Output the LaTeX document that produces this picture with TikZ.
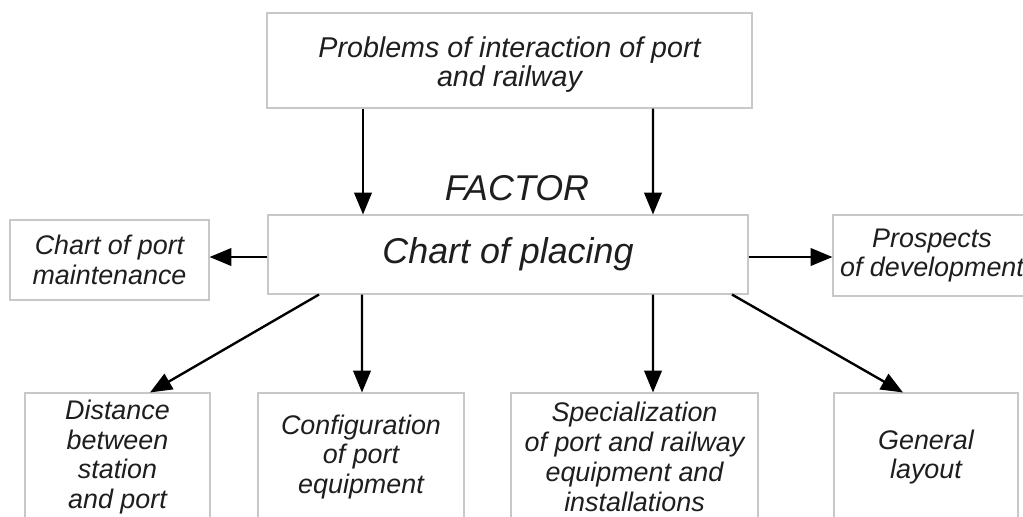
\documentclass[tikz,border=0pt]{standalone}
\usepackage{fontspec}
\setmainfont{Liberation Sans}
\usetikzlibrary{arrows.meta}
\definecolor{boxgray}{RGB}{200,200,200}
\definecolor{txt}{RGB}{30,30,30}
\begin{document}
\begin{tikzpicture}[
  box/.style={draw=boxgray, line width=0.6pt, align=center, text=txt, inner sep=0pt,
    font=\itshape\fontsize{15.3}{17}\selectfont},
  arr/.style={line width=1.35pt, -{Triangle[length=12.5pt,width=10pt]}}
]
\clip (0,0) rectangle (20.46,-10.32);
\fill[white] (0,0) rectangle (20.46,-10.32);
\node[box, minimum width=9.70cm, minimum height=1.90cm] (top) at (10.19,-1.21) {};
\node[align=center, text=txt, inner sep=0pt, font=\itshape\fontsize{16.3}{16.2}\selectfont] (toptext) at ([yshift=-0.08cm]top.center) {Problems of interaction of port\\and railway};
\node[font=\itshape\fontsize{20.4}{22}\selectfont, text=txt, inner sep=0pt] (factor) at (10.34,-3.76) {FACTOR};
\node[box, minimum width=9.60cm, minimum height=1.58cm, font=\itshape\fontsize{20.4}{22}\selectfont] (chart) at (10.16,-5.09) {Chart of placing};
\node[box, minimum width=3.98cm, minimum height=1.60cm] (left) at (2.19,-5.20) {Chart of port\\maintenance};
\node[box, minimum width=3.96cm, minimum height=1.62cm] (right) at (18.64,-5.11) {Prospects\\of development};
\node[box, minimum width=3.70cm, minimum height=2.56cm] (b1) at (2.35,-9.14) {Distance\\between\\station\\and port};
\node[box, minimum width=4.12cm, minimum height=2.56cm] (b2) at (7.22,-9.14) {Configuration\\of port\\equipment};
\node[box, minimum width=4.94cm, minimum height=2.56cm] (b3) at (12.69,-9.14) {Specialization\\of port and railway\\equipment and\\installations};
\node[box, minimum width=3.68cm, minimum height=2.56cm] (b4) at (18.52,-9.14) {General\\layout};

\draw[arr] ([xshift=-2.93cm]top.south) -- ([xshift=-2.90cm]chart.north);
\draw[arr] ([xshift=2.87cm]top.south) -- ([xshift=2.90cm]chart.north);
\draw[arr] ([yshift=-0.05cm]chart.west) -- ([yshift=-0.05cm]chart.west -| left.east);
\draw[arr] ([yshift=-0.05cm]chart.east) -- ([yshift=-0.05cm]chart.east -| right.west);
\draw[arr] ([xshift=-3.78cm]chart.south) -- ([xshift=0.65cm]b1.north);
\draw[arr] ([xshift=-2.92cm]chart.south) -- ([xshift=0.02cm]b2.north);
\draw[arr] ([xshift=2.90cm]chart.south) -- ([xshift=0.37cm]b3.north);
\draw[arr] ([xshift=4.48cm]chart.south) -- ([xshift=-0.46cm]b4.north);
\end{tikzpicture}
\end{document}
